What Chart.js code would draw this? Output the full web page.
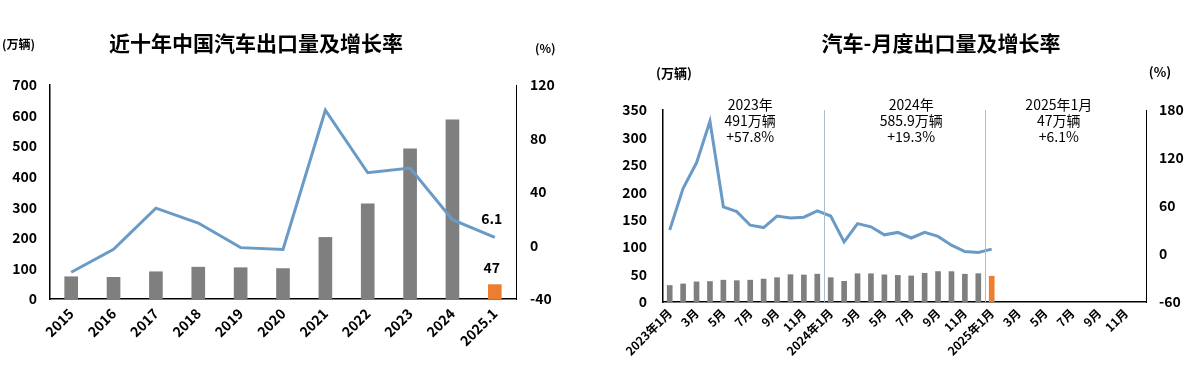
<!DOCTYPE html>
<html>
<head>
<meta charset="utf-8">
<script src="https://cdn.jsdelivr.net/npm/chart.js@4.4.1/dist/chart.umd.min.js"></script>
<style>
body { margin: 0; background: #fff; width: 1195px; height: 374px; overflow: hidden; position: relative; }
canvas { position: absolute; top: 0; }
#yearChart { left: 0; }
#monthChart { left: 590px; }
</style>
</head>
<body>
<canvas id="yearChart" width="590" height="374"></canvas>
<canvas id="monthChart" width="605" height="374"></canvas>
<script>
// yearly data
const years = ['2015', '2016', '2017', '2018', '2019', '2020', '2021', '2022', '2023', '2024', '2025.1'];
const yearExports = [72.8, 70.8, 89.1, 104.1, 102.4, 99.5, 201.5, 311.1, 491, 585.9, 47];
const yearGrowth = [-20, -2.8, 27.9, 16.8, -1.6, -2.9, 101.1, 54.4, 57.9, 19.3, 6.1];

// monthly data
const months = ['2023年1月', '2月', '3月', '4月', '5月', '6月', '7月', '8月', '9月', '10月', '11月', '12月',
    '2024年1月', '2月', '3月', '4月', '5月', '6月', '7月', '8月', '9月', '10月', '11月', '12月',
    '2025年1月', '2月', '3月', '4月', '5月', '6月', '7月', '8月', '9月', '10月', '11月', '12月'];
const monthExports = [30.1, 32.9, 36.7, 37.3, 39.8, 38.9, 39.8, 41.8, 44.4, 49.8, 49.2, 50.8,
    44.3, 37.7, 51.5, 51.5, 49.5, 48.5, 47.5, 52.4, 55.5, 55.4, 50.7, 51.6,
    47];
const monthGrowth = [30, 82, 114, 166, 59, 53, 36, 33, 47.5, 45, 46, 54,
    47.5, 15, 38, 34, 24, 27, 20, 27, 22, 11, 3, 2,
    6.1];
const yearNotes = [
    ['2023年', '491万辆', '+57.8%'],
    ['2024年', '585.9万辆', '+19.3%'],
    ['2025年1月', '47万辆', '+6.1%']
];

const FONT = '"Noto Sans CJK SC", "Noto Sans", sans-serif';
Chart.defaults.font.family = FONT;
Chart.defaults.color = '#000';

const lineBlue = '#6a9bc6';
const barGray = '#7f7f7f';
const barOrange = '#ed7d31';

function fixW(w) { return function (scale) { scale.width = w; }; }
function fixH(h) { return function (scale) { scale.height = h; }; }

const tickFont = { size: 14, weight: 'bold' };

// ---------- left chart ----------
const leftExtras = {
    id: 'leftExtras',
    afterDraw(chart) {
        const ctx = chart.ctx;
        ctx.save();
        ctx.fillStyle = '#000';
        ctx.textBaseline = 'middle';
        ctx.textAlign = 'center';
        ctx.font = 'bold 21px ' + FONT;
        ctx.fillText('近十年中国汽车出口量及增长率', 256, 43);
        ctx.font = 'bold 12px ' + FONT;
        ctx.textAlign = 'left';
        ctx.fillText('(万辆)', 2, 44);
        ctx.fillText('(%)', 535, 48);

        // labels for the last point
        ctx.textAlign = 'center';
        ctx.font = 'bold 14px ' + FONT;
        const lineMeta = chart.getDatasetMeta(0).data;
        const barMeta = chart.getDatasetMeta(1).data;
        const lp = lineMeta[lineMeta.length - 1];
        const bp = barMeta[barMeta.length - 1];
        ctx.fillText(String(yearGrowth[yearGrowth.length - 1]), lp.x - 3, lp.y - 19);
        ctx.fillText(String(yearExports[yearExports.length - 1]), bp.x - 3, bp.y - 17);
        ctx.restore();
    }
};

new Chart(document.getElementById('yearChart'), {
    type: 'bar',
    data: {
        labels: years,
        datasets: [{
            type: 'line',
            data: yearGrowth,
            yAxisID: 'y1',
            borderColor: lineBlue,
            borderWidth: 3,
            pointRadius: 0,
            tension: 0,
            order: 1
        }, {
            data: yearExports,
            yAxisID: 'y',
            backgroundColor: years.map((y, i) => i === years.length - 1 ? barOrange : barGray),
            barThickness: 13,
            order: 2
        }]
    },
    options: {
        responsive: false,
        devicePixelRatio: 1,
        animation: false,
        layout: { padding: { top: 85, left: 0, right: 0, bottom: 0 } },
        plugins: { legend: { display: false }, tooltip: { enabled: false } },
        scales: {
            x: {
                grid: { display: false, drawTicks: false },
                border: { display: true, color: '#000', width: 1.5 },
                ticks: { font: tickFont, minRotation: 45, maxRotation: 45, autoSkip: false, padding: 6 },
                afterFit: fixH(75)
            },
            y: {
                position: 'left',
                min: 0, max: 700,
                grid: { display: false, drawTicks: false },
                border: { display: true, color: '#000', width: 1.5 },
                ticks: { font: tickFont, stepSize: 100, padding: 13 },
                afterFit: fixW(50)
            },
            y1: {
                position: 'right',
                min: -40, max: 120,
                grid: { display: false, drawTicks: false },
                border: { display: true, color: '#000', width: 1 },
                ticks: { font: tickFont, stepSize: 40, padding: 14 },
                afterFit: fixW(74)
            }
        }
    },
    plugins: [leftExtras]
});

// ---------- right chart ----------
const rightExtras = {
    id: 'rightExtras',
    afterDatasetsDraw(chart) {
        const ctx = chart.ctx;
        const xs = chart.scales.x;
        const area = chart.chartArea;
        ctx.save();
        ctx.strokeStyle = '#a7bdd2';
        ctx.lineWidth = 1;
        [11.5, 23.5].forEach(v => {
            const px = Math.round(xs.getPixelForValue(v)) + 0.5;
            ctx.beginPath();
            ctx.moveTo(px, area.top);
            ctx.lineTo(px, area.bottom);
            ctx.stroke();
        });
        ctx.restore();
    },
    afterDraw(chart) {
        const ctx = chart.ctx;
        const xs = chart.scales.x;
        ctx.save();
        ctx.fillStyle = '#000';
        ctx.textBaseline = 'middle';
        ctx.textAlign = 'center';
        ctx.font = 'bold 21px ' + FONT;
        ctx.fillText('汽车-月度出口量及增长率', 351, 43);
        ctx.font = 'bold 13px ' + FONT;
        ctx.fillText('(万辆)', 84, 73);
        ctx.fillText('(%)', 570, 72);

        ctx.font = '14px ' + FONT;
        const centers = [6, 18, 29];
        yearNotes.forEach((lines, k) => {
            const cx = xs.getPixelForValue(centers[k]) - 600 + 600;
            lines.forEach((t, j) => ctx.fillText(t, cx, 105 + j * 16));
        });
        ctx.restore();
    }
};

new Chart(document.getElementById('monthChart'), {
    type: 'bar',
    data: {
        labels: months,
        datasets: [{
            type: 'line',
            data: monthGrowth,
            yAxisID: 'y1',
            borderColor: lineBlue,
            borderWidth: 3,
            pointRadius: 0,
            tension: 0,
            order: 1
        }, {
            data: monthExports,
            yAxisID: 'y',
            backgroundColor: monthExports.map((v, i) => i === 24 ? barOrange : barGray),
            barThickness: 5,
            order: 2
        }]
    },
    options: {
        responsive: false,
        devicePixelRatio: 1,
        animation: false,
        layout: { padding: { top: 110, left: 0, right: 0, bottom: 0 } },
        plugins: { legend: { display: false }, tooltip: { enabled: false } },
        scales: {
            x: {
                grid: { display: false, drawTicks: false },
                border: { display: true, color: '#000', width: 1.5 },
                ticks: {
                    font: { size: 12, weight: 'bold' },
                    minRotation: 45, maxRotation: 45, autoSkip: false, padding: 4,
                    callback: function (val, i) { return i % 2 === 0 ? months[i] : ''; }
                },
                afterFit: fixH(72)
            },
            y: {
                position: 'left',
                min: 0, max: 350,
                grid: { display: false, drawTicks: false },
                border: { display: true, color: '#000', width: 1.5 },
                ticks: { font: tickFont, stepSize: 50, padding: 16 },
                afterFit: fixW(73)
            },
            y1: {
                position: 'right',
                min: -60, max: 180,
                grid: { display: false, drawTicks: false },
                border: { display: true, color: '#000', width: 1 },
                ticks: { font: tickFont, stepSize: 60, padding: 13 },
                afterFit: fixW(49)
            }
        }
    },
    plugins: [rightExtras]
});
</script>
</body>
</html>
